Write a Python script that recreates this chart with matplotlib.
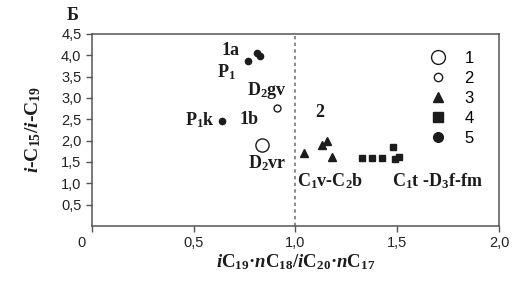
import matplotlib
matplotlib.use("Agg")
import matplotlib.pyplot as plt
from matplotlib.ticker import FixedLocator
from matplotlib.transforms import ScaledTranslation

plt.rcParams['font.family'] = ['Liberation Sans', 'DejaVu Sans']
plt.rcParams['mathtext.fontset'] = 'custom'
plt.rcParams['mathtext.rm'] = 'Liberation Serif:bold'
plt.rcParams['mathtext.it'] = 'Liberation Serif:italic:bold'
plt.rcParams['mathtext.bf'] = 'Liberation Serif:bold'

# Data
g1_x = [0.834]; g1_y = [1.90]                     # 1: large open circle
g2_x = [0.911]; g2_y = [2.76]                     # 2: small open circle
g3_x = [1.042, 1.13, 1.153, 1.178]                # 3: triangles
g3_y = [1.70, 1.90, 1.98, 1.62]
g4_x = [1.325, 1.374, 1.424, 1.48, 1.489, 1.51]   # 4: squares
g4_y = [1.59, 1.59, 1.59, 1.86, 1.56, 1.61]
g5_x = [0.768, 0.81, 0.826, 0.637]                # 5: filled circles
g5_y = [3.87, 4.05, 3.98, 2.47]

xticks = [0, 0.5, 1.0, 1.5, 2.0]
xticklabels = ["0", "0,5", "1,0", "1,5", "2,0"]
yticks = [0.5, 1.0, 1.5, 2.0, 2.5, 3.0, 3.5, 4.0, 4.5]
yticklabels = ["0,5", "1,0", "1,5", "2,0", "2,5", "3,0", "3,5", "4,0", "4,5"]
legend_labels = ["1", "2", "3", "4", "5"]

dark = "#1c1c1c"
spine = "#555555"

fig = plt.figure(figsize=(5.16, 2.85), dpi=100)
ax = fig.add_axes([0.178, 0.207, 0.789, 0.674])
ax.set_xlim(0, 2.0)
ax.set_ylim(0, 4.5)

ax.axvline(1.0, color="#777777", lw=1.2, ls=(0, (2, 2)), zorder=1)

h1, = ax.plot(g1_x, g1_y, 'o', ms=9.5, mfc='white', mec=dark, mew=1.0, ls='none')
h2, = ax.plot(g2_x, g2_y, 'o', ms=5, mfc='white', mec=dark, mew=1.0, ls='none')
h3, = ax.plot(g3_x, g3_y, '^', ms=5.2, color=dark, ls='none')
h4, = ax.plot(g4_x, g4_y, 's', ms=5, color=dark, ls='none')
h5, = ax.plot(g5_x, g5_y, 'o', ms=4.5, color=dark, ls='none')

leg = ax.legend([h1, h2, h3, h4, h5], legend_labels, loc='upper right',
                bbox_to_anchor=(0.975, 0.99), frameon=False, fontsize=12,
                labelspacing=0.3, handletextpad=1.0, handlelength=1.2,
                markerscale=1.0)
for lh, s in zip(leg.legend_handles, [10, 6, 7, 7, 7]):
    lh.set_markersize(s)

ax.xaxis.set_major_locator(FixedLocator(xticks))
ax.set_xticklabels(xticklabels, fontsize=10.5, color="#222222")
ax.yaxis.set_major_locator(FixedLocator(yticks))
ax.set_yticklabels(yticklabels, fontsize=10.5, color="#222222")
ax.tick_params(axis='both', direction='out', length=4, width=1, color=spine)
zero_lbl = ax.get_xticklabels()[0]
zero_lbl.set_ha('right')
zero_lbl.set_transform(zero_lbl.get_transform()
                       + ScaledTranslation(-0.06, 0, fig.dpi_scale_trans))
for s in ax.spines.values():
    s.set_color(spine)
    s.set_linewidth(1.1)

ser = dict(family='Liberation Serif', weight='bold', fontsize=13, color=dark,
           ha='center', va='center')
ax.text(0.68, 4.1, "1a", **ser)
ax.text(0.66, 3.6, r"P$_1$", **ser)
ax.text(0.86, 3.18, r"D$_2$gv", **ser)
ax.text(0.53, 2.47, r"P$_1$k", **ser)
ax.text(0.77, 2.5, "1b", **ser)
ax.text(0.86, 1.48, r"D$_2$vr", **ser)
ax.text(1.12, 2.65, "2", **ser)
ax.text(1.17, 1.06, r"C$_1$v-C$_2$b", **ser)
ax.text(1.70, 1.06, r"C$_1$t -D$_3$f-fm", **ser)

fig.text(0.14, 0.945, "Б", family='Liberation Serif', weight='bold',
         fontsize=13, color=dark, ha='center', va='center')

ax.set_xlabel(r"$\it{i}$C$_{19}$·$\it{n}$C$_{18}$/$\it{i}$C$_{20}$·$\it{n}$C$_{17}$",
              family='Liberation Serif', weight='bold', fontsize=13.5, color=dark,
              labelpad=1)
ax.set_ylabel(r"$\it{i}$-C$_{15}$/$\it{i}$-C$_{19}$",
              family='Liberation Serif', weight='bold', fontsize=14, color=dark)
ax.yaxis.set_label_coords(-0.12, 0.50)

fig.savefig("out.png", dpi=100)
